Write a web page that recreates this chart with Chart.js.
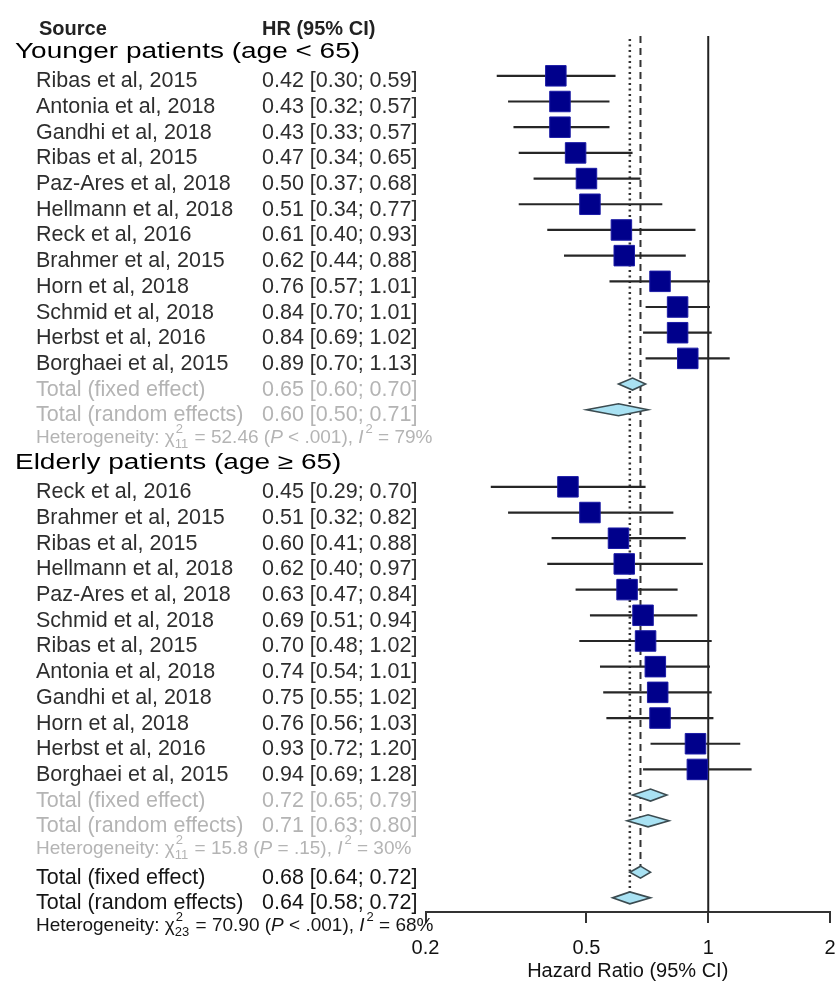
<!DOCTYPE html>
<html lang="en">
<head>
<meta charset="UTF-8">
<title>Hazard ratio forest plot</title>
<script src="https://cdn.jsdelivr.net/npm/chart.js"></script>
<style>
    html, body { margin: 0; padding: 0; background: #fff; }
    #wrap { width: 840px; height: 985px; }
</style>
</head>
<body>
<div id="wrap"><canvas id="forest" width="840" height="985"></canvas></div>
<script>
    // younger patients (age < 65)
    const youngStudies = ['Ribas et al, 2015', 'Antonia et al, 2018', 'Gandhi et al, 2018', 'Ribas et al, 2015',
        'Paz-Ares et al, 2018', 'Hellmann et al, 2018', 'Reck et al, 2016', 'Brahmer et al, 2015',
        'Horn et al, 2018', 'Schmid et al, 2018', 'Herbst et al, 2016', 'Borghaei et al, 2015'];
    const youngHR = [0.42, 0.43, 0.43, 0.47, 0.50, 0.51, 0.61, 0.62, 0.76, 0.84, 0.84, 0.89];
    const youngLo = [0.30, 0.32, 0.33, 0.34, 0.37, 0.34, 0.40, 0.44, 0.57, 0.70, 0.69, 0.70];
    const youngHi = [0.59, 0.57, 0.57, 0.65, 0.68, 0.77, 0.93, 0.88, 1.01, 1.01, 1.02, 1.13];

    // elderly patients (age >= 65)
    const elderStudies = ['Reck et al, 2016', 'Brahmer et al, 2015', 'Ribas et al, 2015', 'Hellmann et al, 2018',
        'Paz-Ares et al, 2018', 'Schmid et al, 2018', 'Ribas et al, 2015', 'Antonia et al, 2018',
        'Gandhi et al, 2018', 'Horn et al, 2018', 'Herbst et al, 2016', 'Borghaei et al, 2015'];
    const elderHR = [0.45, 0.51, 0.60, 0.62, 0.63, 0.69, 0.70, 0.74, 0.75, 0.76, 0.93, 0.94];
    const elderLo = [0.29, 0.32, 0.41, 0.40, 0.47, 0.51, 0.48, 0.54, 0.55, 0.56, 0.72, 0.69];
    const elderHi = [0.70, 0.82, 0.88, 0.97, 0.84, 0.94, 1.02, 1.01, 1.02, 1.03, 1.20, 1.28];

    // pooled estimates [HR, lower, upper]
    const youngFixed = [0.65, 0.60, 0.70];
    const youngRandom = [0.60, 0.50, 0.71];
    const elderFixed = [0.72, 0.65, 0.79];
    const elderRandom = [0.71, 0.63, 0.80];
    const overallFixed = [0.68, 0.64, 0.72];
    const overallRandom = [0.64, 0.58, 0.72];

    // heterogeneity: young, elderly, overall
    const hetDf = ['11', '11', '23'];
    const hetChi = ['52.46', '15.8', '70.90'];
    const hetP = ['< .001', '= .15', '< .001'];
    const hetI2 = ['79%', '30%', '68%'];

    const xTicks = [0.2, 0.5, 1, 2];
    const groupTitles = ['Younger patients (age < 65)', 'Elderly patients (age \u2265 65)'];

    const fmt = (v) => v.toFixed(2);
    const ciText = (h, l, u) => `${fmt(h)} [${fmt(l)}; ${fmt(u)}]`;

    // row layout: one slot per line of the table
    const studyPts = [];
    const rowText = [];
    const diamonds = [];
    youngStudies.forEach((s, i) => {
        studyPts.push({ x: youngHR[i], y: i, lo: youngLo[i], hi: youngHi[i] });
        rowText.push({ r: i, name: s, hr: ciText(youngHR[i], youngLo[i], youngHi[i]), kind: 'study' });
    });
    elderStudies.forEach((s, i) => {
        studyPts.push({ x: elderHR[i], y: 16 + i, lo: elderLo[i], hi: elderHi[i] });
        rowText.push({ r: 16 + i, name: s, hr: ciText(elderHR[i], elderLo[i], elderHi[i]), kind: 'study' });
    });
    [[youngFixed, 12, 'sub', 'Total (fixed effect)'], [youngRandom, 13, 'sub', 'Total (random effects)'],
     [elderFixed, 28, 'sub', 'Total (fixed effect)'], [elderRandom, 29, 'sub', 'Total (random effects)'],
     [overallFixed, 31, 'all', 'Total (fixed effect)'], [overallRandom, 32, 'all', 'Total (random effects)']]
        .forEach(([est, r, kind, name]) => {
            diamonds.push({ est: est, r: r });
            rowText.push({ r: r, name: name, hr: ciText(est[0], est[1], est[2]), kind: kind });
        });
    const hetRows = [14, 30, 33];

    const studyColor = '#2e2e2e';
    const subColor = '#b4b4b4';
    const allColor = '#151515';
    const sans = '"Liberation Sans", Arial, sans-serif';

    function drawHet(ctx, x, y, k, color) {
        const big = '19px ' + sans;
        const bigIt = 'italic 19px ' + sans;
        const small = '13px ' + sans;
        ctx.fillStyle = color;
        ctx.textAlign = 'left';
        ctx.textBaseline = 'alphabetic';
        const put = (txt, font) => {
            ctx.font = font;
            ctx.fillText(txt, x, y);
            return ctx.measureText(txt).width;
        };
        x += put('Heterogeneity: \u03c7', big);
        ctx.font = small;
        const w1 = ctx.measureText('2').width, w2 = ctx.measureText(hetDf[k]).width;
        ctx.fillText('2', x + 1, y - 10);
        ctx.fillText(hetDf[k], x, y + 5);
        x += Math.max(w1, w2) + 1;
        x += put(` = ${hetChi[k]} (`, big);
        x += put('P', bigIt);
        x += put(` ${hetP[k]}), `, big);
        x += put('I', bigIt);
        ctx.font = small;
        ctx.fillText('2', x + 2, y - 10);
        x += ctx.measureText('2').width + 2;
        put(` = ${hetI2[k]}`, big);
    }

    const forestPlugin = {
        id: 'forest',
        beforeDatasetsDraw(chart) {
            const { ctx, chartArea } = chart;
            const xs = chart.scales.x, ys = chart.scales.y;
            ctx.save();

            // reference line at HR = 1
            ctx.strokeStyle = '#222';
            ctx.lineWidth = 2;
            ctx.beginPath();
            ctx.moveTo(xs.getPixelForValue(1), chartArea.top);
            ctx.lineTo(xs.getPixelForValue(1), chartArea.bottom);
            ctx.stroke();

            // overall fixed (dashed) and random (dotted) estimates
            ctx.strokeStyle = '#333';
            ctx.setLineDash([7, 5]);
            ctx.beginPath();
            ctx.moveTo(xs.getPixelForValue(overallFixed[0]), chartArea.top);
            ctx.lineTo(xs.getPixelForValue(overallFixed[0]), ys.getPixelForValue(31) - 6);
            ctx.stroke();
            ctx.lineWidth = 2.5;
            ctx.setLineDash([2, 3.5]);
            ctx.beginPath();
            ctx.moveTo(xs.getPixelForValue(overallRandom[0]), chartArea.top + 3);
            ctx.lineTo(xs.getPixelForValue(overallRandom[0]), ys.getPixelForValue(32) - 4);
            ctx.stroke();
            ctx.setLineDash([]);

            // confidence intervals
            ctx.strokeStyle = '#262626';
            ctx.lineWidth = 2.2;
            studyPts.forEach(p => {
                const y = ys.getPixelForValue(p.y);
                ctx.beginPath();
                ctx.moveTo(xs.getPixelForValue(p.lo), y);
                ctx.lineTo(xs.getPixelForValue(p.hi), y);
                ctx.stroke();
            });

            // pooled diamonds
            ctx.fillStyle = '#a9e2f3';
            ctx.strokeStyle = '#3b4b50';
            ctx.lineWidth = 1.6;
            diamonds.forEach(d => {
                const y = ys.getPixelForValue(d.r);
                ctx.beginPath();
                ctx.moveTo(xs.getPixelForValue(d.est[1]), y);
                ctx.lineTo(xs.getPixelForValue(d.est[0]), y - 6);
                ctx.lineTo(xs.getPixelForValue(d.est[2]), y);
                ctx.lineTo(xs.getPixelForValue(d.est[0]), y + 6);
                ctx.closePath();
                ctx.fill();
                ctx.stroke();
            });
            ctx.restore();
        },
        afterDraw(chart) {
            const { ctx } = chart;
            const ys = chart.scales.y;
            const row = (r) => ys.getPixelForValue(r);
            ctx.save();
            ctx.textAlign = 'left';
            ctx.textBaseline = 'alphabetic';

            ctx.fillStyle = '#222';
            ctx.font = 'bold 20px ' + sans;
            ctx.fillText('Source', 39, row(-2) + 10.7);
            ctx.fillText('HR (95% CI)', 262, row(-2) + 10.7);

            // group titles are set in a wider face than the table
            ctx.fillStyle = '#000';
            ctx.font = '21.5px ' + sans;
            [[groupTitles[0], -1], [groupTitles[1], 15]].forEach(([txt, r]) => {
                ctx.save();
                ctx.translate(15, row(r) + 8.3);
                ctx.scale(345 / ctx.measureText(groupTitles[0]).width, 1);
                ctx.fillText(txt, 0, 0);
                ctx.restore();
            });

            ctx.font = '21.5px ' + sans;
            rowText.forEach(t => {
                ctx.fillStyle = t.kind === 'study' ? studyColor : (t.kind === 'sub' ? subColor : allColor);
                ctx.fillText(t.name, 36, row(t.r) + 11.5);
                ctx.fillText(t.hr, 262, row(t.r) + 11.5);
            });

            hetRows.forEach((r, k) => drawHet(ctx, 36, row(r) + 7.5, k, k === 2 ? allColor : subColor));
            ctx.restore();
        }
    };

    new Chart(document.getElementById('forest'), {
        type: 'scatter',
        data: {
            datasets: [{
                data: studyPts,
                pointStyle: 'rect',
                pointRadius: 14.5,
                pointHoverRadius: 14.5,
                backgroundColor: '#00008b',
                borderColor: '#1c1ca6',
                borderWidth: 1
            }, {
                data: studyPts,
                pointStyle: 'cross',
                pointRadius: 2.5,
                pointHoverRadius: 2.5,
                borderColor: '#000',
                borderWidth: 1.5
            }]
        },
        options: {
            responsive: false,
            animation: false,
            events: [],
            layout: { autoPadding: false, padding: { left: 425.5, right: 10, top: 36, bottom: 0 } },
            plugins: { legend: { display: false }, tooltip: { enabled: false } },
            scales: {
                x: {
                    type: 'logarithmic',
                    min: 0.2,
                    max: 2,
                    afterBuildTicks: (scale) => { scale.ticks = xTicks.map(v => ({ value: v })); },
                    afterFit: (scale) => { scale.height = 73; },
                    ticks: {
                        callback: (v) => String(v),
                        color: '#111',
                        padding: 0,
                        // tall line box pushes the labels below the tick marks
                        font: { family: sans, size: 20, lineHeight: 2.5 }
                    },
                    grid: { drawOnChartArea: false, drawTicks: true, tickLength: 11, color: '#333', lineWidth: 2 },
                    border: { display: true, color: '#333', width: 2 },
                    title: {
                        display: true,
                        text: 'Hazard Ratio (95% CI)',
                        color: '#111',
                        padding: { top: 2, bottom: 2 },
                        font: { family: sans, size: 20 }
                    }
                },
                y: {
                    type: 'linear',
                    reverse: true,
                    min: -1.55,
                    max: 32.55,
                    display: false
                }
            }
        },
        plugins: [forestPlugin]
    });
</script>
</body>
</html>
